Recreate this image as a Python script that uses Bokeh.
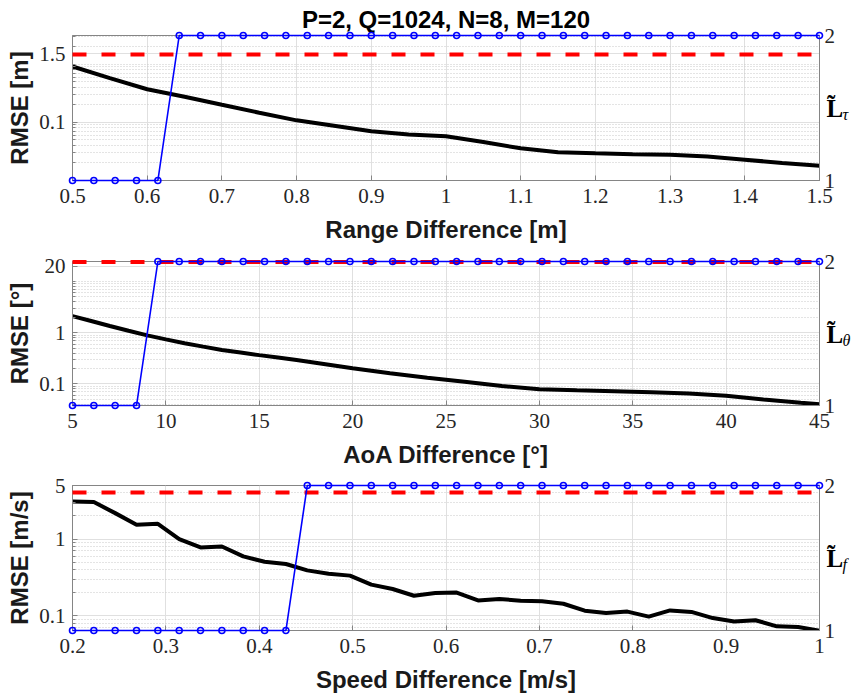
import numpy as np
from bokeh.plotting import figure
from bokeh.models import Range1d, LinearAxis, FixedTicker, CustomJSTickFormatter
from bokeh.core.properties import value
from bokeh.layouts import column
from bokeh.embed import file_html
from bokeh.resources import INLINE

TITLE = "P=2, Q=1024, N=8, M=120"

# ---------------- Panel 1: range ----------------
range_x = [0.50, 0.55, 0.60, 0.65, 0.70, 0.75, 0.80, 0.85, 0.90, 0.95, 1.00,
           1.05, 1.10, 1.15, 1.20, 1.25, 1.30, 1.35, 1.40, 1.45, 1.50]
range_rmse = [0.91, 0.575, 0.37, 0.275, 0.20, 0.146, 0.108, 0.087, 0.070, 0.062, 0.0574,
              0.046, 0.0357, 0.0305, 0.0293, 0.0283, 0.0277, 0.0258, 0.0228, 0.020, 0.0179]
range_grid = list(np.linspace(0.5, 1.5, 36))
range_order = [1, 1, 1, 1, 1] + [2] * 31
range_threshold = 1.46

# ---------------- Panel 2: AoA ----------------
aoa_x = [5, 6, 7, 8, 9, 10, 11, 12, 13, 14, 15, 16, 17, 18, 20, 22, 24, 26, 28, 30,
         32, 34, 36, 38, 40, 42, 44, 45]
aoa_rmse = [2.11, 1.69, 1.35, 1.09, 0.887, 0.742, 0.625, 0.535, 0.46, 0.41, 0.365, 0.327,
            0.293, 0.26, 0.203, 0.162, 0.132, 0.11, 0.091, 0.079, 0.075, 0.072, 0.069,
            0.065, 0.059, 0.050, 0.043, 0.040]
aoa_grid = list(np.linspace(5, 45, 36))
aoa_order = [1, 1, 1, 1] + [2] * 32
aoa_threshold = 24.0

# ---------------- Panel 3: speed ----------------
speed_grid = list(np.linspace(0.2, 1.0, 36))
speed_rmse = [3.10, 3.04, 2.18, 1.54, 1.58, 1.00, 0.778, 0.80, 0.594, 0.506, 0.472, 0.39,
              0.353, 0.333, 0.254, 0.223, 0.182, 0.198, 0.200, 0.158, 0.165, 0.157, 0.154,
              0.143, 0.116, 0.108, 0.113, 0.097, 0.117, 0.112, 0.093, 0.084, 0.087, 0.0726,
              0.071, 0.0637]
speed_order = [1] * 11 + [2] * 25
speed_threshold = 4.06

GRAY = "#858585"
TXT = "#262626"
FMT = "return String(tick)"


def minor_log(lo, hi):
    out = []
    for e in range(-3, 3):
        for m in range(1, 10):
            v = round(m * 10 ** e, 6)
            if lo <= v <= hi:
                out.append(v)
    return out


def panel(xb, yb, xo, yo, thr, xr, yr, xticks, yticks, xlabel, ylabel, sub,
          height, top, bottom, title=None):
    p = figure(width=852, height=height, y_axis_type="log",
               x_range=Range1d(*xr), y_range=Range1d(*yr),
               output_backend="svg", toolbar_location=None,
               min_border_left=72, min_border_right=33,
               min_border_top=top, min_border_bottom=bottom)
    p.background_fill_color = "white"
    p.border_fill_color = "white"
    p.outline_line_color = GRAY
    p.extra_y_ranges = {"L": Range1d(1, 2)}

    xt = FixedTicker(ticks=xticks)
    yt = FixedTicker(ticks=yticks, minor_ticks=minor_log(*yr))
    p.xaxis.ticker = xt
    p.yaxis.ticker = yt
    p.xgrid.ticker = xt
    p.ygrid.ticker = yt
    p.xaxis.formatter = CustomJSTickFormatter(code=FMT)
    p.yaxis.formatter = CustomJSTickFormatter(code=FMT)

    p.xgrid.grid_line_color = "#e0e0e0"
    p.ygrid.grid_line_color = "#e0e0e0"
    p.ygrid.minor_grid_line_color = "#c8c8c8"
    p.ygrid.minor_grid_line_dash = "1 2"

    for ax in (p.xaxis[0], p.yaxis[0]):
        ax.axis_line_color = GRAY
        ax.major_tick_in = 5
        ax.major_tick_out = 0
        ax.major_tick_line_color = GRAY
        ax.minor_tick_in = 3
        ax.minor_tick_out = 0
        ax.minor_tick_line_color = GRAY
        ax.major_label_text_font = "Liberation Serif"
        ax.major_label_text_font_size = "21px"
        ax.major_label_text_color = TXT
        ax.axis_label_text_font = "Liberation Sans"
        ax.axis_label_text_font_style = "bold"
        ax.axis_label_text_font_size = "24px"
        ax.axis_label_text_color = "#1a1a1a"
    p.xaxis.minor_tick_line_color = None
    p.xaxis.major_label_standoff = 8
    p.xaxis.axis_label_standoff = 10
    p.yaxis.major_label_standoff = 7
    p.yaxis.axis_label_standoff = 3
    p.xaxis.axis_label = xlabel
    p.yaxis.axis_label = ylabel

    ra = LinearAxis(y_range_name="L", ticker=FixedTicker(ticks=[1, 2]),
                    formatter=CustomJSTickFormatter(code=FMT))
    ra.axis_line_color = GRAY
    ra.major_tick_in = 5
    ra.major_tick_out = 0
    ra.major_tick_line_color = GRAY
    ra.minor_tick_line_color = None
    ra.major_label_text_font = "Liberation Serif"
    ra.major_label_text_font_size = "21px"
    ra.major_label_text_color = TXT
    ra.major_label_standoff = 5
    p.add_layout(ra, "right")

    p.line(xb, yb, line_color="black", line_width=4)
    p.line([xr[0], xr[1]], [thr, thr], line_color="#ff0000", line_width=4,
           line_dash="14 15", level="overlay")
    p.line(xo, yo, y_range_name="L", line_color="#0000ff", line_width=1.6, level="overlay")
    p.scatter(xo, yo, y_range_name="L", marker="circle", size=6, fill_color=None,
              line_color="#0000ff", line_width=1.6, level="overlay")

    # right-hand axis label: bold L with tilde and italic subscript
    p.text(x=[xr[1]], y=[1.5], text=["L\u0303"], y_range_name="L", x_offset=7, y_offset=13,
           text_font=value("Liberation Serif"), text_font_style="bold",
           text_font_size="25px", text_color="black",
           text_baseline="middle", text_align="left", level="overlay")
    p.text(x=[xr[1]], y=[1.5], text=[sub], y_range_name="L", x_offset=23, y_offset=19,
           text_font=value("Liberation Serif"), text_font_style="italic",
           text_font_size="16px", text_color="black",
           text_baseline="middle", text_align="left", level="overlay")

    if title:
        p.title.text = title
        p.title.align = "center"
        p.title.text_font = "Liberation Sans"
        p.title.text_font_size = "24px"
        p.title.text_font_style = "bold"
        p.title.text_color = "black"
        p.title.standoff = 6
    return p


p1 = panel(range_x, range_rmse, range_grid, range_order, range_threshold,
           (0.5, 1.5), (0.01, 3.1),
           [0.5, 0.6, 0.7, 0.8, 0.9, 1.0, 1.1, 1.2, 1.3, 1.4, 1.5], [0.1, 1.5],
           "Range Difference [m]", "RMSE [m]", "\u03c4", 248, 35, 68, TITLE)
p2 = panel(aoa_x, aoa_rmse, aoa_grid, aoa_order, aoa_threshold,
           (5, 45), (0.038, 24.5),
           [5, 10, 15, 20, 25, 30, 35, 40, 45], [0.1, 1, 20],
           "AoA Difference [\u00b0]", "RMSE [\u00b0]", "\u03b8", 225, 13, 68)
p3 = panel(speed_grid, speed_rmse, speed_grid, speed_order, speed_threshold,
           (0.2, 1.0), (0.064, 5.0),
           [0.2, 0.3, 0.4, 0.5, 0.6, 0.7, 0.8, 0.9, 1.0], [0.1, 1, 5],
           "Speed Difference [m/s]", "RMSE [m/s]", "f", 224, 12, 67)

layout = column(p1, p2, p3, spacing=0)
open("out.html", "w").write(file_html(layout, INLINE))
